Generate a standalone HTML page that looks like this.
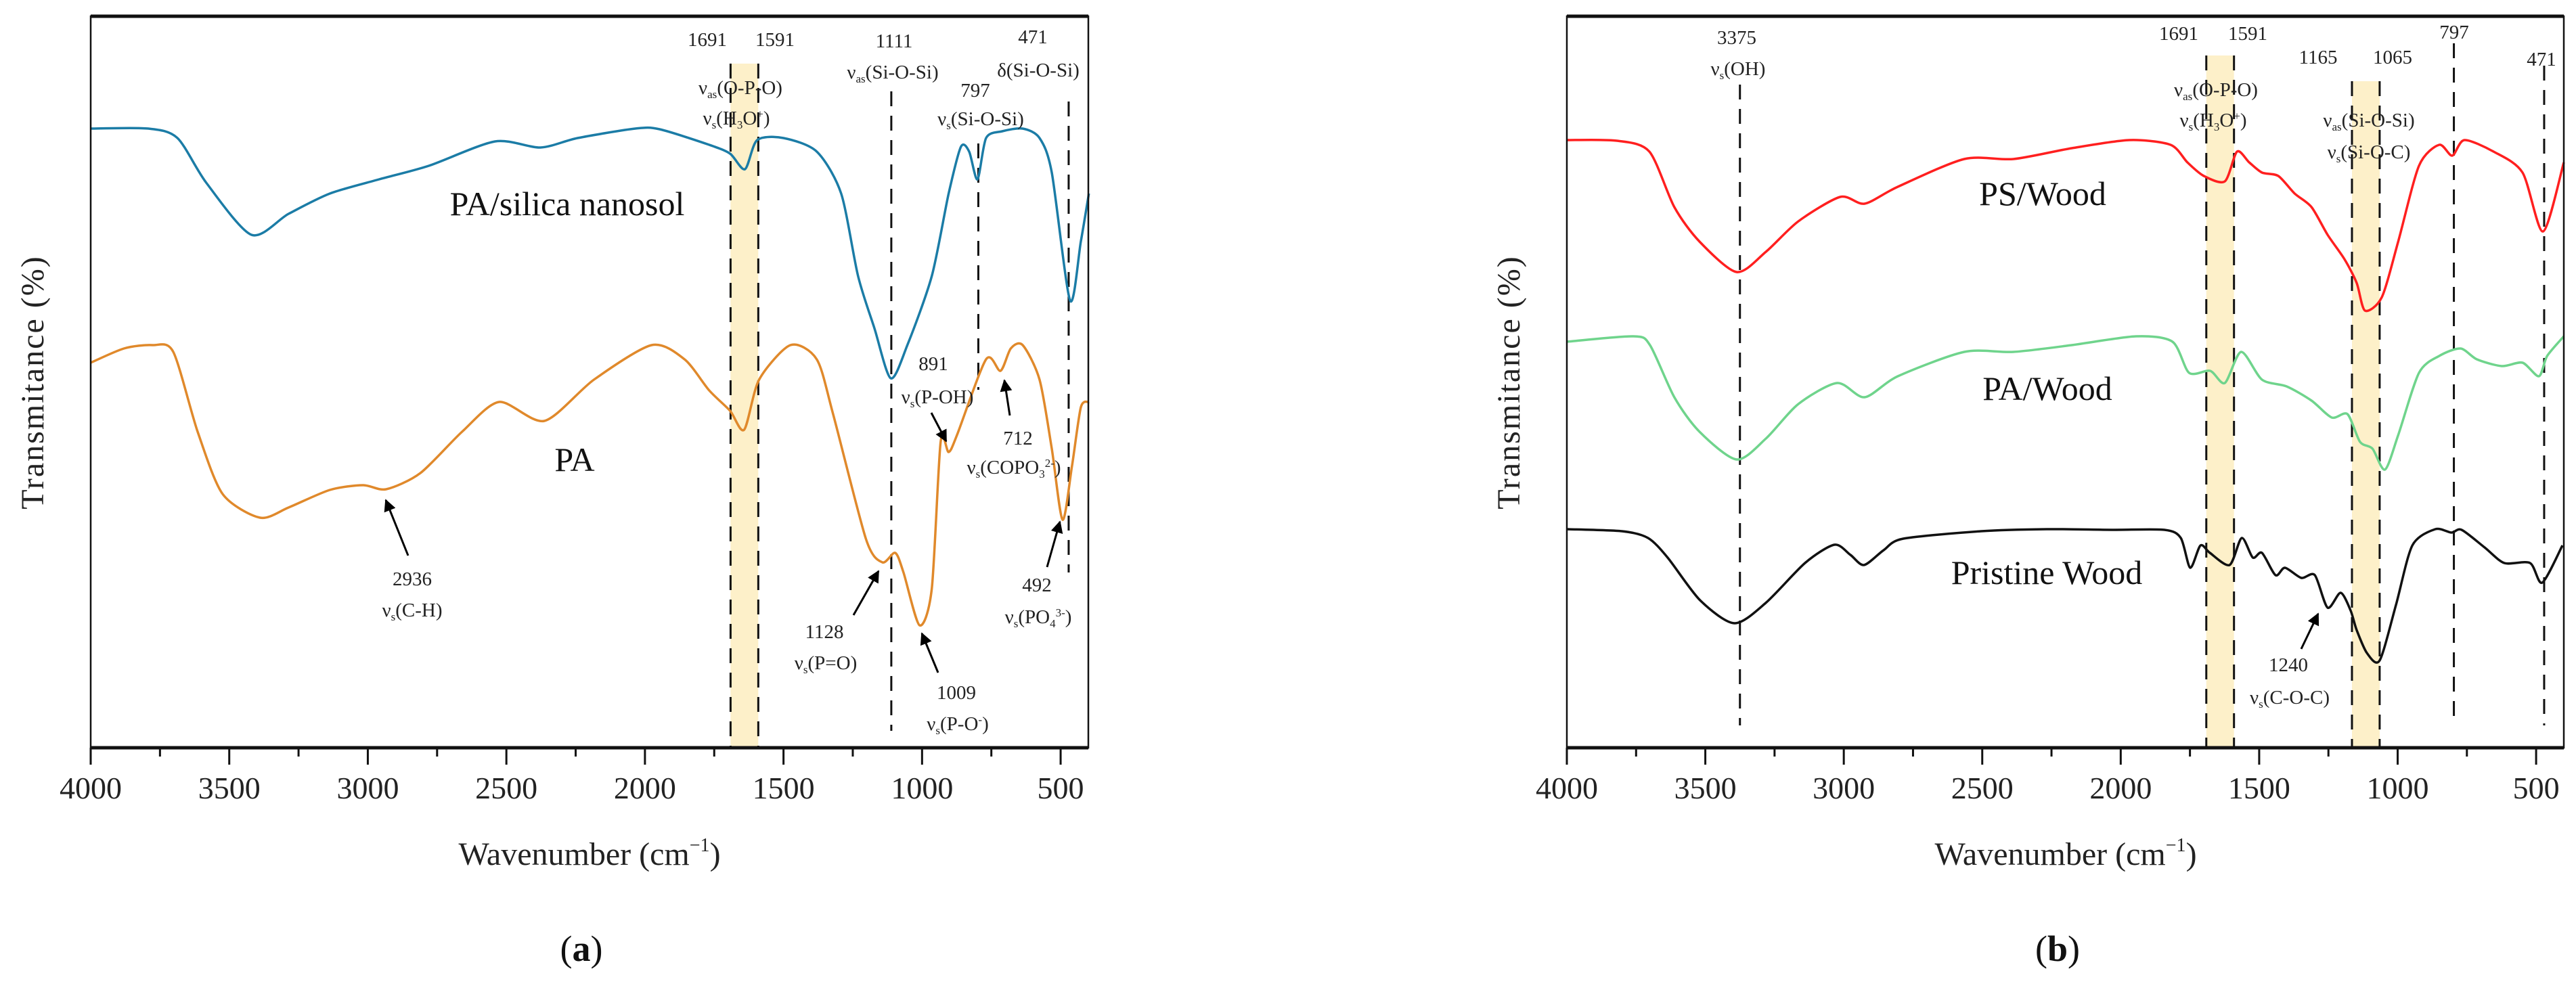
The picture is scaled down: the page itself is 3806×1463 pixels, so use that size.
<!DOCTYPE html>
<html><head><meta charset="utf-8"><title>FTIR spectra</title>
<style>
html,body{margin:0;padding:0;background:#fff;}
svg{display:block;font-family:"Liberation Serif",serif;}
.ann{font-size:29px;fill:#222;}
.ser{font-size:50px;fill:#111;}
.tick{font-size:46px;fill:#222;}
.ttl{font-size:48px;fill:#222;}
</style></head>
<body>
<svg id="chart" width="3806" height="1463" viewBox="0 0 3806 1463" xmlns="http://www.w3.org/2000/svg">
<defs><marker id="ah" viewBox="0 0 10 10" refX="9" refY="5" markerWidth="6" markerHeight="6" orient="auto"><path d="M0,0 L10,5 L0,10 z" fill="#000"/></marker></defs>
<g id="layer-bands"></g>
<g id="layer-dash"></g>
<g id="layer-lines"></g>
<g id="layer-axes"></g>
<g id="layer-text">
<text class="ann" x="1045" y="68" text-anchor="middle">1691</text>
<text class="ann" x="1145" y="68" text-anchor="middle">1591</text>
<text class="ann" x="1321" y="70" text-anchor="middle">1111</text>
<text class="ann" x="1526" y="64" text-anchor="middle">471</text>
<text class="ann" x="1319" y="116" text-anchor="middle">ν<tspan font-size="17" dy="6">as</tspan><tspan dy="-6">(Si-O-Si)</tspan></text>
<text class="ann" x="1534" y="113" text-anchor="middle">δ(Si-O-Si)</text>
<text class="ann" x="1441" y="143" text-anchor="middle">797</text>
<text class="ann" x="1449" y="185" text-anchor="middle">ν<tspan font-size="17" dy="6">s</tspan><tspan dy="-6">(Si-O-Si)</tspan></text>
<text class="ann" x="1094" y="139" text-anchor="middle">ν<tspan font-size="17" dy="6">as</tspan><tspan dy="-6">(O-P-O)</tspan></text>
<text class="ann" x="1088" y="184" text-anchor="middle">ν<tspan font-size="17" dy="6">s</tspan><tspan dy="-6">(H</tspan><tspan font-size="17" dy="6">3</tspan><tspan dy="-6">O</tspan><tspan font-size="17" dy="-10">+</tspan><tspan dy="10">)</tspan></text>
<text class="ser" x="838" y="318" text-anchor="middle">PA/silica nanosol</text>
<text class="ser" x="849" y="696" text-anchor="middle">PA</text>
<text class="ann" x="1379" y="547" text-anchor="middle">891</text>
<text class="ann" x="1385" y="596" text-anchor="middle">ν<tspan font-size="17" dy="6">s</tspan><tspan dy="-6">(P-OH)</tspan></text>
<text class="ann" x="1504" y="657" text-anchor="middle">712</text>
<text class="ann" x="1498" y="700" text-anchor="middle">ν<tspan font-size="17" dy="6">s</tspan><tspan dy="-6">(COPO</tspan><tspan font-size="17" dy="6">3</tspan><tspan font-size="17" dy="-16">2-</tspan><tspan dy="10">)</tspan></text>
<text class="ann" x="609" y="865" text-anchor="middle">2936</text>
<text class="ann" x="609" y="911" text-anchor="middle">ν<tspan font-size="17" dy="6">s</tspan><tspan dy="-6">(C-H)</tspan></text>
<text class="ann" x="1218" y="943" text-anchor="middle">1128</text>
<text class="ann" x="1220" y="989" text-anchor="middle">ν<tspan font-size="17" dy="6">s</tspan><tspan dy="-6">(P=O)</tspan></text>
<text class="ann" x="1413" y="1033" text-anchor="middle">1009</text>
<text class="ann" x="1415" y="1079" text-anchor="middle">ν<tspan font-size="17" dy="6">s</tspan><tspan dy="-6">(P-O</tspan><tspan font-size="17" dy="-10">-</tspan><tspan dy="10">)</tspan></text>
<text class="ann" x="1532" y="874" text-anchor="middle">492</text>
<text class="ann" x="1534" y="921" text-anchor="middle">ν<tspan font-size="17" dy="6">s</tspan><tspan dy="-6">(PO</tspan><tspan font-size="17" dy="6">4</tspan><tspan font-size="17" dy="-16">3-</tspan><tspan dy="10">)</tspan></text>
<text class="ann" x="2566" y="65" text-anchor="middle">3375</text>
<text class="ann" x="2568" y="111" text-anchor="middle">ν<tspan font-size="17" dy="6">s</tspan><tspan dy="-6">(OH)</tspan></text>
<text class="ann" x="3219" y="59" text-anchor="middle">1691</text>
<text class="ann" x="3321" y="59" text-anchor="middle">1591</text>
<text class="ann" x="3425" y="94" text-anchor="middle">1165</text>
<text class="ann" x="3535" y="94" text-anchor="middle">1065</text>
<text class="ann" x="3626" y="57" text-anchor="middle">797</text>
<text class="ann" x="3755" y="97" text-anchor="middle">471</text>
<text class="ann" x="3274" y="142" text-anchor="middle">ν<tspan font-size="17" dy="6">as</tspan><tspan dy="-6">(O-P-O)</tspan></text>
<text class="ann" x="3270" y="187" text-anchor="middle">ν<tspan font-size="17" dy="6">s</tspan><tspan dy="-6">(H</tspan><tspan font-size="17" dy="6">3</tspan><tspan dy="-6">O</tspan><tspan font-size="17" dy="-10">+</tspan><tspan dy="10">)</tspan></text>
<text class="ann" x="3500" y="187" text-anchor="middle">ν<tspan font-size="17" dy="6">as</tspan><tspan dy="-6">(Si-O-Si)</tspan></text>
<text class="ann" x="3500" y="234" text-anchor="middle">ν<tspan font-size="17" dy="6">s</tspan><tspan dy="-6">(Si-O-C)</tspan></text>
<text class="ser" x="3018" y="303" text-anchor="middle">PS/Wood</text>
<text class="ser" x="3025" y="591" text-anchor="middle">PA/Wood</text>
<text class="ser" x="3024" y="863" text-anchor="middle">Pristine Wood</text>
<text class="ann" x="3381" y="992" text-anchor="middle">1240</text>
<text class="ann" x="3383" y="1040" text-anchor="middle">ν<tspan font-size="17" dy="6">s</tspan><tspan dy="-6">(C-O-C)</tspan></text>
<text class="ttl" x="871" y="1278" text-anchor="middle">Wavenumber (cm<tspan font-size="28" dy="-20">−1</tspan><tspan dy="20">)</tspan></text>
<text class="ttl" x="3052" y="1278" text-anchor="middle">Wavenumber (cm<tspan font-size="28" dy="-20">−1</tspan><tspan dy="20">)</tspan></text>
<text class="ttl" transform="translate(64,565) rotate(-90)" text-anchor="middle" letter-spacing="2">Transmitance (%)</text>
<text class="ttl" transform="translate(2245,565) rotate(-90)" text-anchor="middle" letter-spacing="2">Transmitance (%)</text>
<text x="859" y="1420" text-anchor="middle" font-size="54" fill="#111">(<tspan font-weight="bold">a</tspan>)</text>
<text x="3040" y="1420" text-anchor="middle" font-size="54" fill="#111">(<tspan font-weight="bold">b</tspan>)</text>
</g>
<g id="layer-arrows">
<line x1="1376" y1="610" x2="1398" y2="652" stroke="#000" stroke-width="3" marker-end="url(#ah)"/>
<line x1="1492" y1="614" x2="1484" y2="562" stroke="#000" stroke-width="3" marker-end="url(#ah)"/>
<line x1="603" y1="821" x2="570" y2="739" stroke="#000" stroke-width="3" marker-end="url(#ah)"/>
<line x1="1261" y1="909" x2="1298" y2="844" stroke="#000" stroke-width="3" marker-end="url(#ah)"/>
<line x1="1386" y1="994" x2="1362" y2="936" stroke="#000" stroke-width="3" marker-end="url(#ah)"/>
<line x1="1547" y1="838" x2="1566" y2="771" stroke="#000" stroke-width="3" marker-end="url(#ah)"/>
<line x1="3400" y1="959" x2="3425" y2="907" stroke="#000" stroke-width="3" marker-end="url(#ah)"/>
</g>
</svg>
<script>
const blueWn=[4000,3792,3687,3583,3420,3286,3137,2959,2780,2541,2377,2243,2035,1947,1768,1693,1639,1595,1500,1380,1292,1231,1172,1113,1053,965,904,860,830,800,769,711,637,576,532,466,427,398];
const blueT=[915,915,901,835,758,789,819,840,860,896,887,901,915,914,891,878,855,898,901,881,819,697,620,546,595,697,819,888,881,840,901,911,915,901,850,661,748,819];
const orangeWn=[4000,3880,3777,3702,3614,3524,3389,3286,3137,3017,2934,2810,2660,2526,2363,2184,1976,1857,1768,1693,1642,1588,1475,1380,1321,1202,1143,1097,1067,1009,965,933,904,874,769,717,680,637,576,532,493,459,427,398];
const orangeT=[569,590,595,585,467,375,340,355,381,388,382,406,467,511,483,544,595,574,528,498,470,544,595,574,493,308,274,288,259,181,235,452,437,462,574,557,590,595,544,442,337,416,503,511];
const redWn=[4000,3819,3702,3612,3521,3387,3281,3164,3013,2925,2805,2565,2387,2177,1969,1820,1759,1700,1624,1580,1536,1490,1431,1372,1311,1253,1192,1148,1118,1057,998,923,850,803,759,654,549,475,400];
const redT=[898,897,881,799,748,703,733,778,814,804,829,870,870,886,898,891,865,845,837,881,865,850,845,819,799,758,722,687,646,666,748,860,891,875,898,881,850,763,865];
const greenWn=[4000,3760,3700,3612,3521,3387,3281,3164,3024,2925,2805,2565,2387,2177,1945,1813,1753,1677,1624,1565,1490,1401,1311,1238,1181,1136,1091,1046,998,923,850,773,714,624,549,490,460,400];
const greenT=[600,608,595,518,467,426,457,508,539,518,549,585,585,595,608,600,554,557,539,585,544,534,513,488,493,452,442,411,462,554,579,590,574,564,569,549,579,608];
const blackWn=[4000,3801,3707,3636,3519,3395,3282,3140,3034,2976,2927,2856,2785,2504,2267,2032,1842,1783,1749,1712,1678,1607,1563,1523,1490,1441,1407,1348,1299,1253,1206,1170,1148,1111,1065,1006,947,864,806,769,686,615,522,478,405];
const blackT=[323,320,310,281,218,184,214,273,300,285,270,292,309,320,323,322,322,310,266,299,288,270,310,281,288,255,266,251,255,207,229,203,174,140,129,211,299,323,318,322,296,273,273,244,299];
const xTicks=[4000,3500,3000,2500,2000,1500,1000,500];
const dashA=[1691,1591,1111,797,471];
const dashATop=[94,94,135,212,150];
const dashABot=[1105,1105,1080,576,846];
const dashB=[3375,1691,1591,1165,1065,797,471];
const dashBTop=[125,82,82,120,120,64,97];
const dashBBot=[1072,1105,1105,1105,1105,1072,1072];
const bandsA=[[1691,1591]];
const bandsB=[[1691,1591],[1165,1065]];
const bandsBTop=[82,120];

const NS="http://www.w3.org/2000/svg";
const yTop=24, yBot=1105, tMax=1081;
function yS(t){return yBot-(t/tMax)*(yBot-yTop);}
function mkX(left,right){return wn=>left+(4000-wn)/(4000-400)*(right-left);}
const xA=mkX(134,1608), xB=mkX(2315,3788);
function el(tag,attrs,parent){const e=document.createElementNS(NS,tag);for(const k in attrs)e.setAttribute(k,attrs[k]);parent.appendChild(e);return e;}
const gB=document.getElementById('layer-bands'),gD=document.getElementById('layer-dash'),gL=document.getElementById('layer-lines'),gX=document.getElementById('layer-axes');

function bands(list,tops,xs,name){list.forEach((b,i)=>{
  const e=el('rect',{x:xs(b[0]),y:tops[i],width:xs(b[1])-xs(b[0]),height:yBot-tops[i],fill:'#fdf0c9'},gB);
  
  
});}
bands(bandsA,[94],xA,'highlight-band-a');
bands(bandsB,bandsBTop,xB,'highlight-band-b');

function dashes(list,tops,bots,xs,name){list.forEach((w,i)=>{
  const e=el('line',{x1:xs(w),x2:xs(w),y1:tops[i],y2:bots[i],stroke:'#111','stroke-width':3,'stroke-dasharray':'22 14'},gD);
  
  
});}
dashes(dashA,dashATop,dashABot,xA,'dashed-line-a');
dashes(dashB,dashBTop,dashBBot,xB,'dashed-line-b');

function series(wn,t,xs,color,name){
  const p=wn.map((w,i)=>[xs(w),yS(t[i])]);
  let d='M'+p[0][0].toFixed(1)+','+p[0][1].toFixed(1);
  for(let i=0;i<p.length-1;i++){
    const p0=p[Math.max(0,i-1)],p1=p[i],p2=p[i+1],p3=p[Math.min(p.length-1,i+2)];
    const k=1/6*0.8;
    const c1=[p1[0]+(p2[0]-p0[0])*k,p1[1]+(p2[1]-p0[1])*k];
    const c2=[p2[0]-(p3[0]-p1[0])*k,p2[1]-(p3[1]-p1[1])*k];
    d+=' C'+c1[0].toFixed(1)+','+c1[1].toFixed(1)+' '+c2[0].toFixed(1)+','+c2[1].toFixed(1)+' '+p2[0].toFixed(1)+','+p2[1].toFixed(1);
  }
  const e=el('path',{d:d,fill:'none',stroke:color,'stroke-width':3.5,'stroke-linejoin':'round'},gL);
  
  
}
series(blueWn,blueT,xA,'#1b7ca6','series-pa-silica-nanosol');
series(orangeWn,orangeT,xA,'#e0892b','series-pa');
series(redWn,redT,xB,'#ff1f1f','series-ps-wood');
series(greenWn,greenT,xB,'#6fd48c','series-pa-wood');
series(blackWn,blackT,xB,'#111111','series-pristine-wood');

function axes(left,right,xs,p){
  const f=el('rect',{x:left,y:yTop,width:right-left,height:yBot-yTop,fill:'none',stroke:'#111','stroke-width':2.5},gX);
  
  
  const t=el('line',{x1:left,x2:right,y1:yTop,y2:yTop,stroke:'#111','stroke-width':5},gX);
  
  
  const b=el('line',{x1:left,x2:right,y1:yBot,y2:yBot,stroke:'#111','stroke-width':5},gX);
  
  
  for(let w=4000;w>=400;w-=250){
    const maj=w%500===0;
    const k=el('line',{x1:xs(w),x2:xs(w),y1:yBot,y2:yBot+(maj?25:13),stroke:'#111','stroke-width':3},gX);
    
    
  }
  xTicks.forEach(w=>{
    const l=el('text',{x:xs(w),y:1180,'text-anchor':'middle','class':'tick'},gX);
    l.textContent=String(w);
    
    
  });
}
axes(134,1608,xA,'a');
axes(2315,3788,xB,'b');
</script>
</body></html>
